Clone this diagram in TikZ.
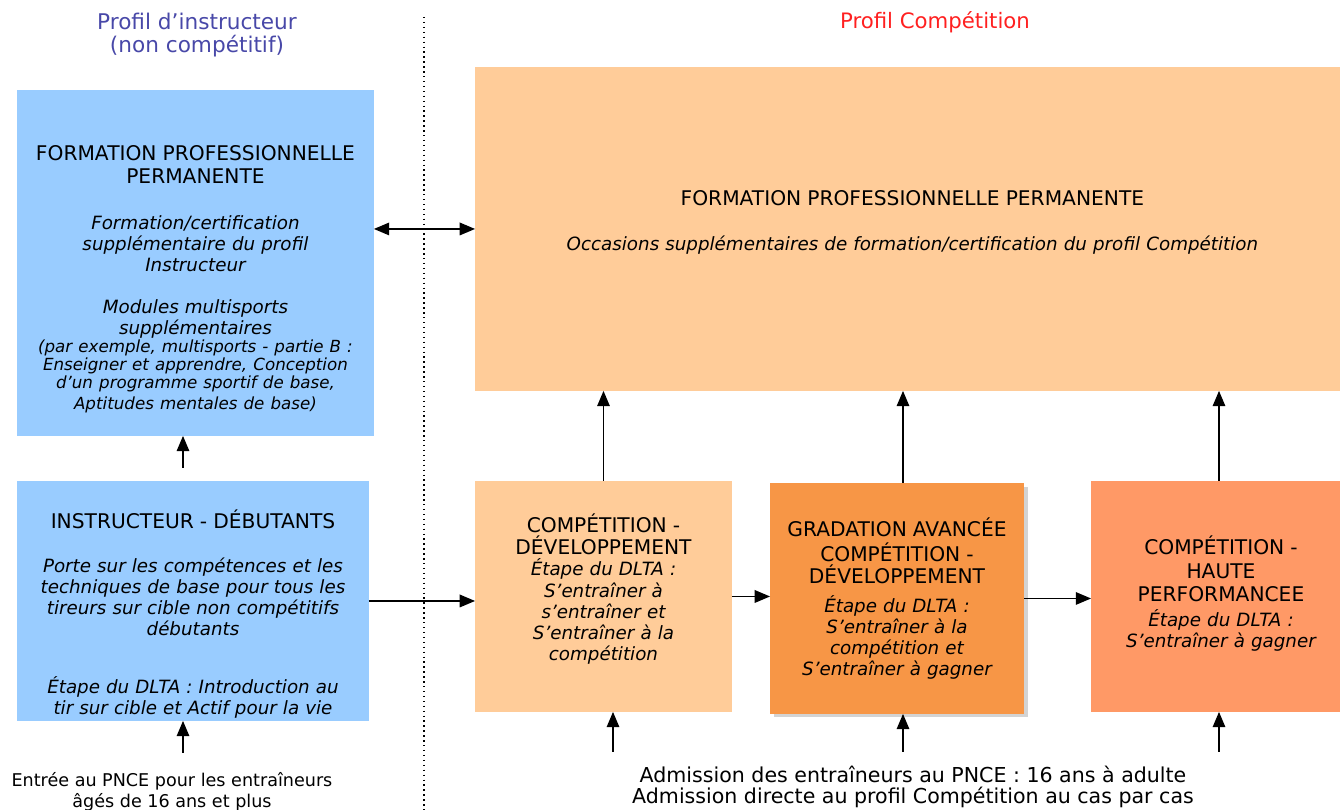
\documentclass[tikz,border=0pt]{standalone}
\usepackage{fontspec}
\setmainfont{DejaVu Sans}
\usepackage{tikz}
\usetikzlibrary{arrows,shadows,positioning}

\definecolor{instrblue}{HTML}{99CCFF}
\definecolor{peach}{HTML}{FFCC99}
\definecolor{gradorange}{HTML}{F79646}
\definecolor{hauteorange}{HTML}{FF9966}
\definecolor{titleblue}{HTML}{4848A8}
\definecolor{titlered}{HTML}{FF2020}

\newcommand{\boxhd}{\fontsize{11.5}{13}\selectfont\upshape}
\newcommand{\boxtxt}{\fontsize{10.4}{12}\selectfont\itshape}
\newcommand{\boxsmall}{\fontsize{9.5}{10.8}\selectfont\itshape}

\tikzset{
  bloc/.style={rectangle, anchor=north west, inner sep=2pt, outer sep=0pt, align=center, font=\boxtxt},
  fleche/.style={->,>=triangle 45, line width=1pt},
}

\begin{document}
\begin{tikzpicture}[x=0.02cm,y=-0.02cm]
	\useasboundingbox (0,0) rectangle (1340,810);

	\node[titleblue, align=center, font=\fontsize{12.3}{13.6}\selectfont] (tinstr) at (197,35) {Profil d’instructeur\\(non compétitif)};
	\node[titlered, font=\fontsize{12.1}{13.6}\selectfont] (tcomp) at (935,22) {Profil Compétition};

	\draw[dotted, line width=0.8pt] (424,17) -- (424,812);

	\node[bloc, fill=instrblue, text width=7cm, minimum width=7.14cm, minimum height=6.92cm] (ltop) at (17,90) {\mbox{}\\[14pt]
		{\boxhd FORMATION PROFESSIONNELLE\\[1pt]PERMANENTE}\\[14pt]
		Formation/certification\\supplémentaire du profil\\Instructeur\\[12pt]
		Modules multisports\\supplémentaires\\[-0.5pt]
		{\boxsmall (par exemple, multisports - partie B :\\[-0.5pt]Enseigner et apprendre, Conception\\[-0.5pt]d’un programme sportif de base,\\[-0.5pt]Aptitudes mentales de base)}};

	\node[bloc, fill=instrblue, text width=6.9cm, minimum width=7.04cm, minimum height=4.8cm] (ldeb) at (17,481) {{\boxhd INSTRUCTEUR - DÉBUTANTS}\\[13pt]
		Porte sur les compétences et les\\techniques de base pour tous les\\tireurs sur cible non compétitifs\\débutants\\[21pt]
		Étape du DLTA : Introduction au\\tir sur cible et Actif pour la vie\par\kern-15pt};

	\node[bloc, fill=peach, text width=17.3cm, minimum width=17.5cm, minimum height=6.48cm] (big) at (475,67) {{\boxhd FORMATION PROFESSIONNELLE PERMANENTE}\\[13.5pt]
		Occasions supplémentaires de formation/certification du profil Compétition\\[-2pt]\mbox{}};

	\node[bloc, fill=peach, text width=5cm, minimum width=5.14cm, minimum height=4.62cm] (compdev) at (475,481) {{\boxhd COMPÉTITION -\\[1pt]DÉVELOPPEMENT}\\
		Étape du DLTA :\\S’entraîner à\\s’entraîner et\\S’entraîner à la\\compétition\\[-1pt]\mbox{}};

	\node[bloc, fill=gradorange, text width=4.94cm, minimum width=5.08cm, minimum height=4.62cm,
		drop shadow={shadow xshift=2pt, shadow yshift=-2pt, opacity=0.35}] (grad) at (770,483) {{\boxhd GRADATION AVANCÉE\\[1pt]COMPÉTITION -\\[1pt]DÉVELOPPEMENT}\\[4pt]
		Étape du DLTA :\\S’entraîner à la\\compétition et\\S’entraîner à gagner};

	\node[bloc, fill=hauteorange, text width=5.06cm, minimum width=5.2cm, minimum height=4.62cm] (haute) at (1091,481) {{\boxhd COMPÉTITION -\\[1pt]HAUTE\\[1pt]PERFORMANCEE}\\[2pt]
		Étape du DLTA :\\S’entraîner à gagner\\[-6pt]\mbox{}};

	\node[align=center, font=\fontsize{10}{12}\selectfont] (entree) at (172,792) {Entrée au PNCE pour les entraîneurs\\âgés de 16 ans et plus};
	\node[align=center, font=\fontsize{11.7}{12}\selectfont] (admis) at (913,787) {Admission des entraîneurs au PNCE : 16 ans à adulte\\Admission directe au profil Compétition au cas par cas};

	\coordinate (d0) at (183,468);
	\coordinate (e0) at (183,753);
	\coordinate (a1) at (613,752);
	\coordinate (a2) at (903,752);
	\coordinate (a3) at (1219,752);

	\draw[fleche] (d0) -- (d0 |- ltop.south);
	\draw[fleche] (e0) -- (e0 |- ldeb.south);
	\draw[<->, >=triangle 45, line width=1pt] (ltop.east |- big.west) -- (big.west);

	\draw[fleche] (ldeb.east) -- (ldeb.east -| compdev.west);
	\draw[fleche] (compdev.east) -- (compdev.east -| grad.west);
	\draw[fleche] (grad.east) -- (grad.east -| haute.west);

	\draw[fleche] (compdev.north) -- (compdev.north |- big.south);
	\draw[fleche] (a2 |- grad.north) -- (a2 |- big.south);
	\draw[fleche] (a3 |- haute.north) -- (a3 |- big.south);

	\draw[fleche] (a1) -- (a1 |- compdev.south);
	\draw[fleche] (a2) -- (a2 |- grad.south);
	\draw[fleche] (a3) -- (a3 |- haute.south);
\end{tikzpicture}
\end{document}
